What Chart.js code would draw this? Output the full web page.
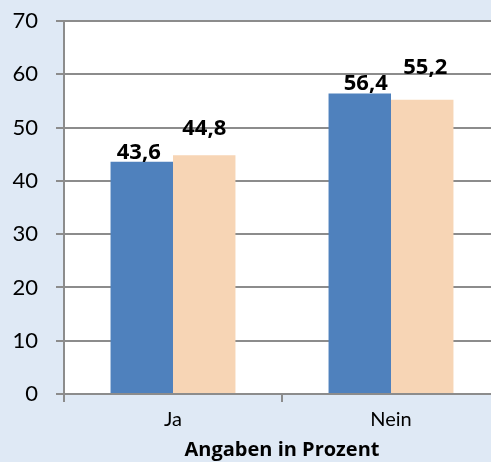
<!DOCTYPE html>
<html>
<head>
<meta charset="utf-8">
<script src="https://cdn.jsdelivr.net/npm/chart.js@4/dist/chart.umd.min.js"></script>
<style>
  html, body { margin: 0; padding: 0; background: #dfe9f5; overflow: hidden; }
  #wrap { width: 500px; height: 462px; position: relative; }
</style>
</head>
<body>
<div id="wrap"><canvas id="c" width="500" height="462"></canvas></div>
<script>
const categories = ['Ja', 'Nein'];
const series1 = [43.6, 56.4];
const series2 = [44.8, 55.2];
const yTicks = [0, 10, 20, 30, 40, 50, 60, 70];
const axisTitle = 'Angaben in Prozent';

const plotBg = {
  id: 'plotBg',
  beforeDraw(chart) {
    const {ctx, chartArea: a} = chart;
    ctx.save();
    ctx.fillStyle = '#ffffff';
    ctx.fillRect(a.left, a.top, a.right - a.left, a.bottom - a.top);
    ctx.restore();
  }
};

const valueLabels = {
  id: 'valueLabels',
  afterDatasetsDraw(chart, args, opts) {
    const {ctx} = chart;
    ctx.save();
    ctx.font = 'bold 22px "Open Sans"';
    ctx.fillStyle = '#000';
    ctx.textAlign = 'center';
    ctx.textBaseline = 'alphabetic';
    chart.data.datasets.forEach((ds, di) => {
      chart.getDatasetMeta(di).data.forEach((bar, i) => {
        const o = opts.offsets[di][i];
        ctx.fillText(ds.data[i].toFixed(1).replace('.', ','), bar.x + o[0], bar.y - o[1]);
      });
    });
    ctx.restore();
  }
};

const gridColor = '#8c8c8c';

new Chart(document.getElementById('c'), {
  type: 'bar',
  data: {
    labels: categories,
    datasets: [
      { data: series1, backgroundColor: '#4f81bd', categoryPercentage: 0.573, barPercentage: 1 },
      { data: series2, backgroundColor: '#f7d5b5', categoryPercentage: 0.573, barPercentage: 1 }
    ]
  },
  options: {
    responsive: false,
    animation: false,
    events: [],
    layout: { padding: { top: 21, left: 0, right: 0, bottom: 0 } },
    plugins: {
      legend: { display: false },
      tooltip: { enabled: false },
      valueLabels: { offsets: [[[-3, 3], [6, 3]], [[0, 20], [3, 26]]] }
    },
    scales: {
      x: {
        grid: { display: true, drawOnChartArea: false, drawTicks: true, tickLength: 8, color: gridColor, lineWidth: 2, offset: true },
        border: { display: true, color: gridColor, width: 2 },
        ticks: { color: '#000', font: { family: 'Lato', size: 20 }, padding: 6 },
        title: { display: true, text: axisTitle, color: '#000', font: { family: '"Open Sans"', size: 20, weight: 'bold' }, padding: { top: 0, bottom: 0 } },
        afterFit(scale) { scale.height = 68; scale.paddingLeft = 0; scale.paddingRight = 0; }
      },
      y: {
        min: 0, max: 70,
        afterBuildTicks(scale) { scale.ticks = yTicks.map(v => ({ value: v })); },
        grid: { color: gridColor, lineWidth: 2, tickLength: 8, drawTicks: true },
        border: { display: true, color: gridColor, width: 2 },
        ticks: { color: '#000', font: { family: 'Lato', size: 22 }, padding: 18 },
        afterFit(scale) { scale.width = 64; scale.paddingTop = 0; scale.paddingBottom = 0; }
      }
    }
  },
  plugins: [plotBg, valueLabels]
});
</script>
</body>
</html>
